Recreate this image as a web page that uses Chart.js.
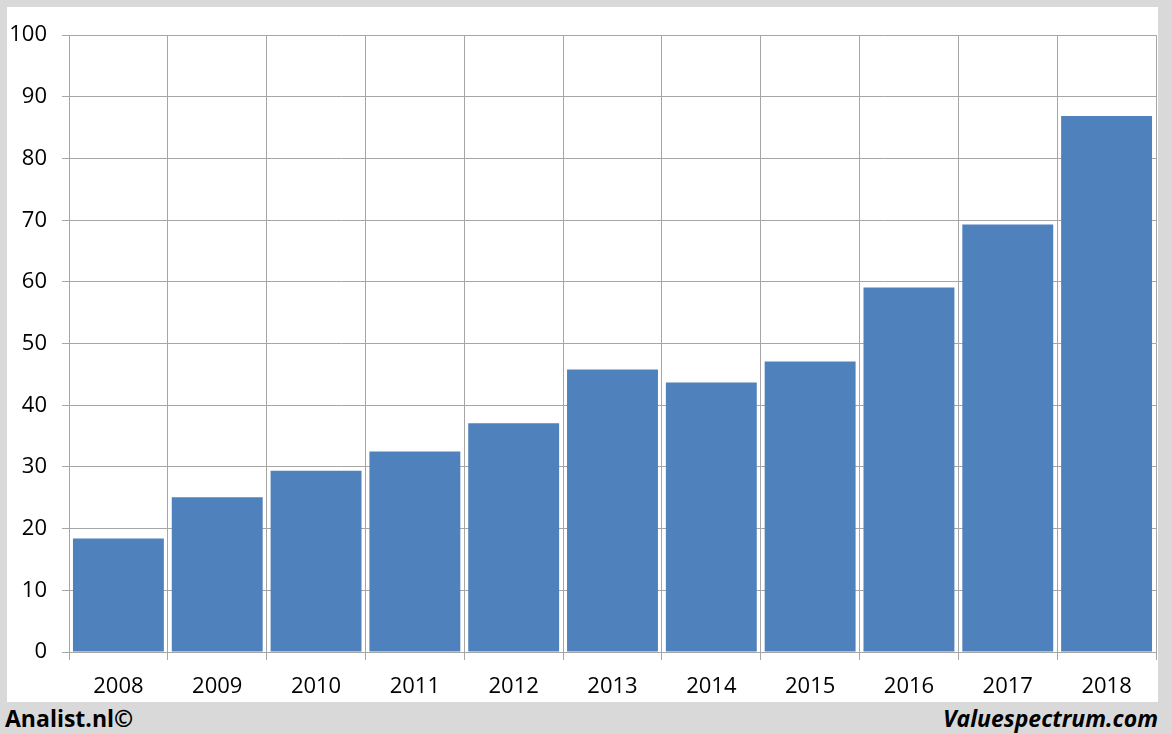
<!DOCTYPE html>
<html>
<head>
<meta charset="utf-8">
<script src="https://cdn.jsdelivr.net/npm/chart.js@4/dist/chart.umd.min.js"></script>
<style>
  html, body { margin: 0; padding: 0; }
  body { width: 1172px; height: 734px; background: #d9d9d9; position: relative; overflow: hidden; font-family: "Open Sans", sans-serif; }
  #panel { position: absolute; left: 7px; top: 7px; width: 1151px; height: 695px; background: #fff; }
  .foot { position: absolute; top: 702px; font-size: 23px; font-weight: bold; color: #000; }
  #left { left: 5px; }
  #right { right: 14px; font-style: italic; }
</style>
</head>
<body>
<div id="panel"><canvas id="myBarChart"></canvas></div>
<div class="foot" id="left">Analist.nl©</div>
<div class="foot" id="right">Valuespectrum.com</div>
<script>
const years = ["2008", "2009", "2010", "2011", "2012", "2013", "2014", "2015", "2016", "2017", "2018"];
const values = [18.4, 25.1, 29.4, 32.5, 37.1, 45.8, 43.7, 47.1, 59.1, 69.3, 86.9];
const yTicks = [0, 10, 20, 30, 40, 50, 60, 70, 80, 90, 100];

const gridColor = "#a6a6a6";
const ctx = document.getElementById("myBarChart").getContext("2d");
const myBarChart = new Chart(ctx, {
  type: "bar",
  data: {
    labels: years,
    datasets: [
      {
        data: values,
        backgroundColor: "#4f81bd",
        borderWidth: 0,
        barPercentage: 0.92,
        categoryPercentage: 1,
      },
    ],
  },
  options: {
    responsive: true,
    maintainAspectRatio: false,
    animation: false,
    layout: {
      padding: { top: 26, right: 2, left: 0, bottom: 0 },
    },
    plugins: {
      legend: { display: false },
      tooltip: { enabled: false },
    },
    scales: {
      x: {
        grid: {
          offset: true,
          color: gridColor,
          tickLength: 8,
        },
        border: { color: gridColor },
        ticks: {
          color: "#000",
          padding: 14,
          font: { family: "Open Sans", size: 22 },
        },
        afterFit: (scale) => { scale.height = 50; },
      },
      y: {
        min: 0,
        max: 100,
        afterBuildTicks: (scale) => {
          scale.ticks = yTicks.map((v) => ({ value: v }));
        },
        grid: {
          color: gridColor,
          tickLength: 7,
        },
        border: { color: gridColor },
        ticks: {
          color: "#000",
          padding: 15,
          font: { family: "Open Sans", size: 22 },
        },
        afterFit: (scale) => { scale.width = 62; },
      },
    },
  },
});
</script>
</body>
</html>
